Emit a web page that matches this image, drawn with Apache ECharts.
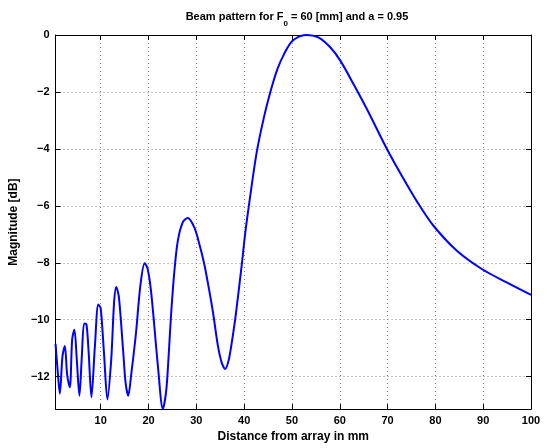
<!DOCTYPE html>
<html><head><meta charset="utf-8">
<script src="https://cdn.jsdelivr.net/npm/echarts@6/dist/echarts.min.js"></script>
<style>html,body{margin:0;padding:0;background:#fff}#c{width:547px;height:448px}</style>
</head><body><div id="c"></div>
<script>
const xs = [0.56,1.0,1.46,2.0,2.5,3.0,3.54,4.04,4.5,5.0,5.55,6.05,6.54,7.02,7.5,8.06,8.8,9.5,10.0,10.7,11.4,12.2,12.8,13.25,13.8,14.7,15.2,15.75,16.4,17.4,18.3,19.2,19.8,20.56,21.96,23.0,23.7,24.2,24.73,25.42,26.13,27.16,28.2,29.58,30.63,31.67,32.71,33.54,34.5,35.3,36.04,36.8,37.6,38.27,39.52,40.2,41.04,42.6,44.2,45.56,46.96,48.33,50.08,52.85,55.6,58.06,60.15,62.9,65.7,69.7,73,76.5,79.6,84.5,89.7,94.9,100];
const ys = [-10.85,-11.8,-12.6,-11.3,-10.92,-11.96,-12.37,-10.68,-10.35,-11.4,-12.67,-11.3,-10.13,-10.16,-11.2,-12.72,-10.9,-9.47,-9.6,-11.2,-12.8,-11.4,-9.4,-8.85,-9.2,-11.1,-12.2,-12.67,-11.9,-10.44,-8.8,-8.02,-8.2,-9.04,-11.61,-13.13,-12.5,-11.3,-9.8,-8.28,-7.23,-6.58,-6.43,-6.76,-7.34,-8.05,-8.98,-9.8,-10.9,-11.5,-11.73,-11.4,-10.6,-9.8,-8.05,-7.0,-5.94,-4.15,-2.85,-1.96,-1.2,-0.68,-0.21,0,-0.09,-0.44,-0.91,-1.73,-2.61,-3.95,-4.95,-5.94,-6.7,-7.58,-8.22,-8.69,-9.13];
const xTicks = [10,20,30,40,50,60,70,80,90,100];
const yTicks = [-12,-10,-8,-6,-4,-2,0];
const titlePre = 'Beam pattern for F';
const titleSub = '0';
const titlePost = ' = 60 [mm] and a = 0.95';
const xName = 'Distance from array in mm';
const yName = 'Magnitude [dB]';

const FONT = 'Liberation Sans';
const data = xs.map((x,i)=>[x, ys[i]]);
const xMin = 0.56, xMax = 100, yMin = -13.14, yMax = 0;
const grid = {left:54, right:16, top:35, bottom:38};
const splitLine = {show:true, lineStyle:{color:'#8a8a8a', type:[1,3], width:1}};
const lbl = {fontFamily:FONT, fontWeight:'bold', fontSize:11, color:'#000'};
const chart = echarts.init(document.getElementById('c'), null, {renderer:'canvas'});
chart.setOption({
  animation:false,
  backgroundColor:'#fff',
  title:{
    text:'{a|'+titlePre+'}{s|'+titleSub+'}{a|'+titlePost+'}',
    left:292, top:6, textAlign:'center',
    textStyle:{rich:{
      a:{fontFamily:FONT, fontWeight:'bold', fontSize:11, color:'#000', lineHeight:16, verticalAlign:'top'},
      s:{fontFamily:FONT, fontWeight:'bold', fontSize:8, color:'#000', lineHeight:16, padding:[9,0,0,0], verticalAlign:'top'}
    }}
  },
  grid:grid,
  xAxis:[{
    type:'value', min:xMin, max:xMax, position:'bottom',
    name:xName, nameLocation:'middle', nameGap:20,
    nameTextStyle:Object.assign({}, lbl, {fontSize:12}),
    axisLine:{show:true, onZero:false, lineStyle:{color:'#000', width:1}},
    axisTick:{show:true, inside:true, length:5, customValues:xTicks.slice(0,-1), lineStyle:{color:'#000'}},
    axisLabel:Object.assign({customValues:xTicks, margin:6}, lbl),
    splitLine:splitLine
  },{
    type:'value', min:xMin, max:xMax, position:'top',
    axisLine:{show:true, onZero:false, lineStyle:{color:'#000', width:1}},
    axisTick:{show:true, inside:true, length:5, customValues:xTicks.slice(0,-1), lineStyle:{color:'#000'}},
    axisLabel:{show:false}, splitLine:{show:false}
  }],
  yAxis:[{
    type:'value', min:yMin, max:yMax, position:'left',
    name:yName, nameLocation:'middle', nameGap:31,
    nameTextStyle:Object.assign({}, lbl, {fontSize:12}),
    axisLine:{show:true, onZero:false, lineStyle:{color:'#000', width:1}},
    axisTick:{show:true, inside:true, length:5, customValues:yTicks.slice(0,-1), lineStyle:{color:'#000'}},
    axisLabel:Object.assign({customValues:yTicks, margin:6, formatter:v=>String(v).replace('-', '\u2212')}, lbl),
    splitLine:splitLine
  },{
    type:'value', min:yMin, max:yMax, position:'right',
    axisLine:{show:true, onZero:false, lineStyle:{color:'#000', width:1}},
    axisTick:{show:true, inside:true, length:5, customValues:yTicks.slice(0,-1), lineStyle:{color:'#000'}},
    axisLabel:{show:false}, splitLine:{show:false}
  }],
  series:[{
    type:'line', data:data, xAxisIndex:0, yAxisIndex:0,
    showSymbol:false, smooth:0.3,
    lineStyle:{color:'#0000ff', width:2}, clip:true
  }]
});
</script></body></html>
